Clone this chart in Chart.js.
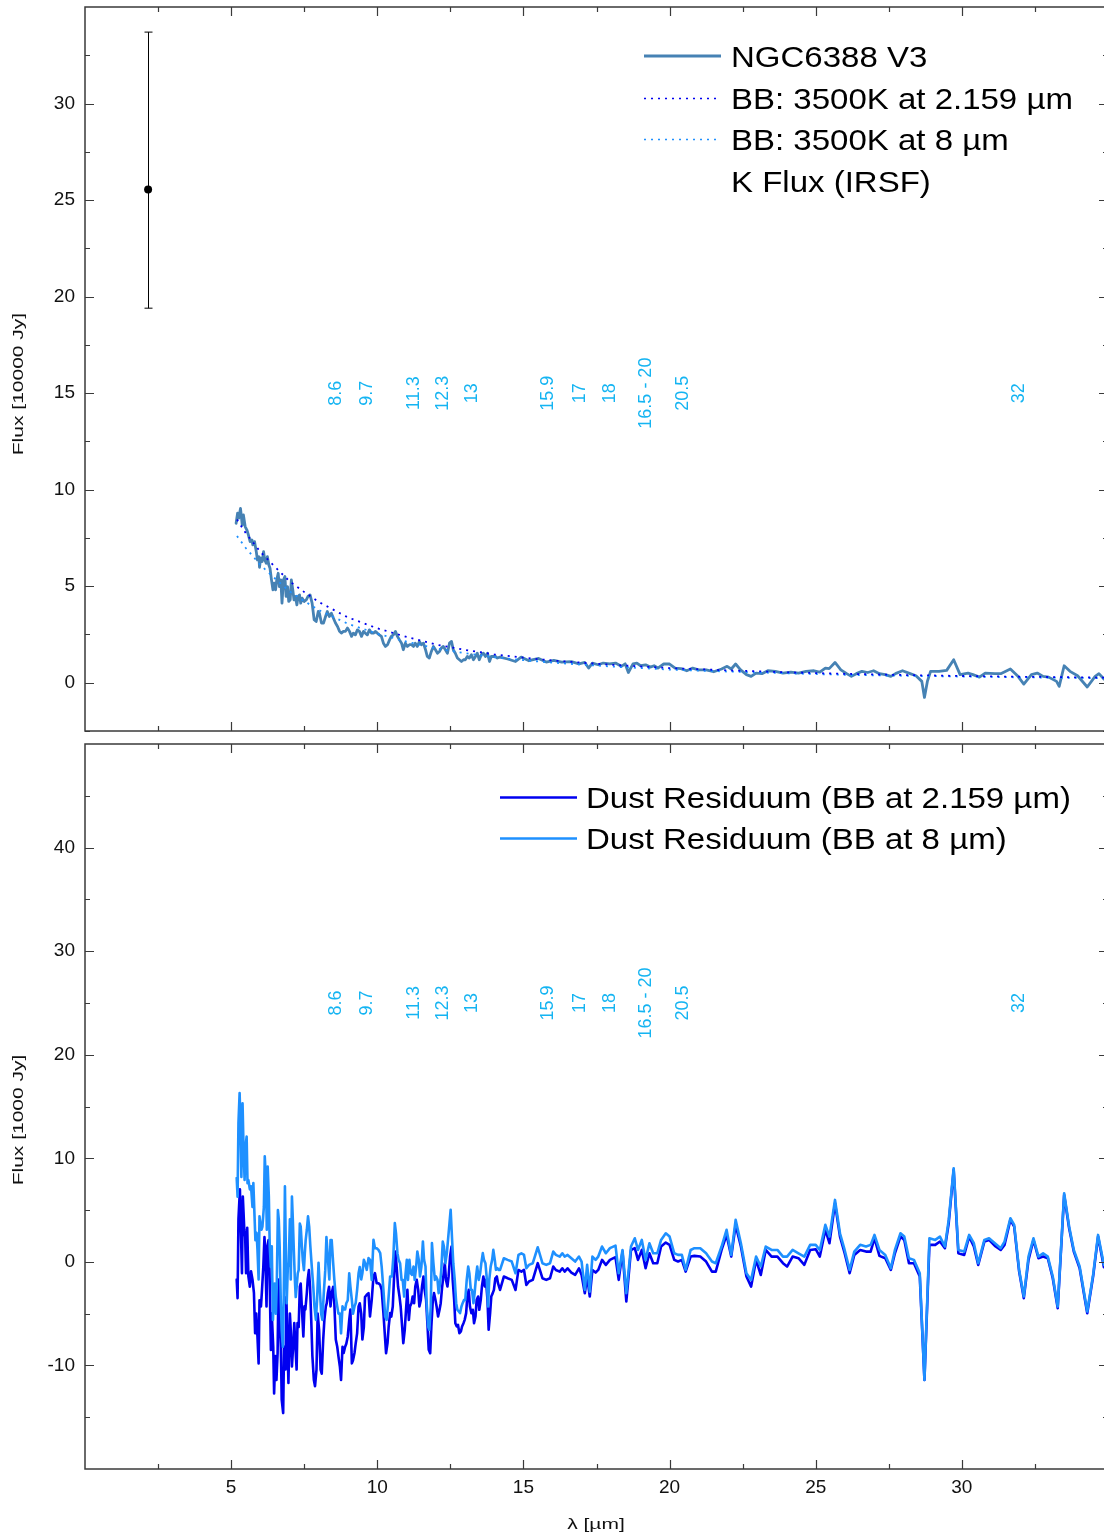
<!DOCTYPE html>
<html><head><meta charset="utf-8">
<script src="https://cdn.jsdelivr.net/npm/chart.js@4.4.1/dist/chart.umd.min.js"></script>
<style>
html,body{margin:0;padding:0;background:#fff;overflow:hidden;width:1104px;height:1537px;}
#top{position:absolute;left:0;top:0;}
#bot{position:absolute;left:0;top:738px;}
</style></head><body>
<canvas id="top" width="1112" height="738"></canvas>
<canvas id="bot" width="1112" height="799"></canvas>
<script>
// ---------------- DATA ----------------
// NGC6388 V3 spectrum, wavelength [µm] and flux [10000 Jy]
const specX = [5.17,5.22,5.26,5.32,5.38,5.42,5.48,5.54,5.59,5.65,5.71,5.74,5.80,5.86,5.90,5.95,5.97,6.01,6.06,6.11,6.15,6.20,6.24,6.29,6.33,6.38,6.43,6.47,6.52,6.56,6.61,6.65,6.70,6.74,6.79,6.84,6.88,6.93,6.97,7.02,7.06,7.11,7.15,7.20,7.25,7.29,7.34,7.38,7.43,7.50,7.57,7.63,7.70,7.77,7.84,7.91,7.98,8.02,8.09,8.16,8.23,8.29,8.36,8.43,8.50,8.57,8.64,8.71,8.77,8.84,8.91,8.98,9.05,9.12,9.18,9.25,9.32,9.39,9.46,9.53,9.59,9.66,9.73,9.80,9.87,9.94,10.00,10.07,10.14,10.21,10.28,10.35,10.42,10.48,10.55,10.62,10.69,10.76,10.83,10.89,10.96,11.03,11.10,11.17,11.24,11.30,11.37,11.44,11.51,11.58,11.65,11.71,11.78,11.85,11.92,11.99,12.06,12.13,12.19,12.26,12.33,12.40,12.47,12.54,12.60,12.67,12.74,12.81,12.88,12.95,13.01,13.08,13.15,13.22,13.29,13.36,13.42,13.49,13.56,13.63,13.70,13.77,13.84,13.90,13.97,14.04,14.11,
14.20,14.46,14.73,14.92,15.19,15.52,15.78,16.04,16.31,16.64,16.90,17.10,17.23,17.36,17.56,17.73,17.95,18.15,18.35,18.48,18.59,18.75,18.88,19.01,19.18,19.34,19.47,19.60,19.80,20.00,20.19,20.39,20.59,20.79,20.99,21.25,21.51,21.78,21.97,22.11,22.26,22.43,22.63,22.79,22.96,23.16,23.36,23.62,23.88,24.15,24.41,24.67,24.94,25.14,25.33,25.46,25.66,25.86,26.06,26.22,26.39,26.58,26.78,26.98,27.18,27.38,27.57,27.77,27.97,28.23,28.43,28.63,28.72,28.82,28.93,29.22,29.48,29.72,29.94,30.21,30.38,30.60,30.80,31.13,31.33,31.66,31.92,32.12,32.38,32.58,32.78,32.97,33.24,33.33,33.50,33.70,33.96,34.29,34.56,34.69,34.86];
const specY = [8.26,8.78,8.52,9.03,8.17,8.69,8.09,7.91,7.66,7.31,7.40,7.14,7.31,6.79,6.36,6.53,5.98,6.45,6.28,6.79,6.36,6.19,6.53,6.10,5.93,5.33,4.81,5.16,4.81,5.33,5.67,4.98,5.33,4.12,5.33,5.50,4.47,4.98,4.21,4.29,5.33,4.81,4.29,4.47,4.03,4.47,4.55,4.12,4.38,4.21,4.29,4.47,4.55,4.12,3.26,3.17,3.69,3.60,3.09,3.09,3.43,3.69,3.43,3.60,3.34,3.09,2.91,2.66,2.57,2.66,2.66,2.83,2.66,2.40,2.57,2.48,2.74,2.66,2.40,2.66,2.57,2.48,2.74,2.57,2.57,2.66,2.57,2.48,2.40,2.05,1.88,1.97,2.22,2.40,2.48,2.66,2.40,2.22,2.05,1.71,2.05,1.88,1.97,1.97,1.88,2.05,1.88,2.14,1.97,2.05,1.71,1.36,1.28,1.62,1.88,1.71,1.53,1.62,1.79,1.88,1.71,1.53,2.05,2.14,1.71,1.53,1.28,1.19,1.10,1.19,1.19,1.36,1.28,1.45,1.19,1.36,1.53,1.19,1.45,1.53,1.36,1.53,1.10,1.36,1.36,1.36,1.28,
1.33,1.23,1.10,1.33,1.14,1.26,1.07,1.16,1.07,1.09,0.98,1.05,0.76,1.02,0.93,1.02,0.98,1.02,0.85,0.98,0.53,0.98,1.02,0.88,0.93,0.81,0.88,0.76,0.97,0.97,0.76,0.73,0.62,0.76,0.67,0.67,0.57,0.71,0.85,0.71,0.97,0.67,0.42,0.33,0.50,0.47,0.62,0.59,0.50,0.55,0.50,0.59,0.62,0.55,0.76,0.73,1.05,0.67,0.47,0.33,0.47,0.59,0.53,0.62,0.47,0.42,0.33,0.50,0.62,0.47,0.36,0.07,-0.76,0.07,0.59,0.59,0.64,1.19,0.42,0.50,0.42,0.29,0.50,0.47,0.47,0.71,0.33,-0.07,0.42,0.50,0.33,0.29,0.07,-0.19,0.88,0.59,0.36,-0.22,0.33,0.47,0.19];

// Black bodies 3500 K [10000 Jy]
const bbX   = [5.2,5.5,6.0,6.5,7.0,7.5,8.0,9,10,11,12,13,14,15,16,18,20,22,24,26,28,30,32,34,35];
const bb2Y  = [8.45,7.75,6.78,6.00,5.25,4.70,4.18,3.38,2.82,2.37,1.98,1.70,1.47,1.30,1.15,0.93,0.76,0.64,0.54,0.46,0.40,0.35,0.31,0.28,0.26];
const bb8Y  = [7.60,6.98,6.10,5.40,4.73,4.23,3.76,3.05,2.54,2.13,1.78,1.53,1.32,1.17,1.04,0.84,0.68,0.58,0.49,0.41,0.36,0.32,0.28,0.25,0.23];

// K flux (IRSF) with asymmetric error [10000 Jy]
const kFluxX = [2.159];
const kFluxY = [25.55];
const kFluxLow = [19.4];
const kFluxHigh = [33.7];

// Dust residuum, BB at 2.159 µm [1000 Jy]
const res2X = [5.19,5.22,5.25,5.30,5.33,5.37,5.40,5.45,5.48,5.51,5.55,5.59,5.64,5.68,5.73,5.78,5.82,5.86,5.90,5.94,5.97,6.02,6.05,6.10,6.14,6.17,6.21,6.24,6.28,6.31,6.36,6.39,6.44,6.47,6.51,6.55,6.59,6.62,6.65,6.70,6.73,6.78,6.81,6.86,6.89,6.93,6.96,7.01,7.04,7.08,7.12,7.16,7.20,7.24,7.27,7.31,7.35,7.38,7.43,7.47,7.51,7.54,7.59,7.62,7.66,7.70,7.74,7.78,7.83,7.87,7.92,7.96,8.01,8.06,8.10,8.15,8.19,8.24,8.27,8.31,8.35,8.40,8.44,8.49,8.53,8.58,8.63,8.67,8.72,8.76,8.81,8.85,8.90,8.94,8.99,9.04,9.08,9.13,9.17,9.22,9.26,9.31,9.36,9.40,9.45,9.49,9.54,9.58,
9.64,9.70,9.75,9.81,9.87,9.92,9.98,10.04,10.10,10.15,10.21,10.27,10.30,10.35,10.39,10.44,10.48,10.53,10.57,10.62,10.67,10.71,10.76,10.80,10.85,10.89,10.94,10.99,11.03,11.08,11.12,11.17,11.21,11.26,11.30,11.35,11.40,11.44,11.49,11.53,11.58,11.62,11.67,11.72,11.76,11.81,11.85,11.90,11.94,11.99,12.03,12.08,12.13,12.17,12.22,12.26,12.31,12.35,12.40,12.44,12.49,12.54,12.58,12.63,12.67,12.72,12.76,12.81,12.86,12.90,12.95,12.99,13.04,13.08,13.13,13.17,13.22,13.27,13.31,13.36,13.40,13.45,13.49,13.54,13.58,13.63,13.68,13.72,13.77,13.81,13.86,13.90,13.95,13.99,14.04,14.09,14.13,
14.20,14.33,14.46,14.60,14.73,14.83,14.93,15.02,15.10,15.19,15.32,15.49,15.65,15.78,15.91,16.02,16.11,16.24,16.33,16.41,16.51,16.64,16.77,16.90,16.99,17.10,17.18,17.27,17.36,17.47,17.56,17.69,17.82,17.96,18.15,18.26,18.39,18.52,18.68,18.81,18.92,19.05,19.18,19.31,19.44,19.58,19.71,19.87,20.00,20.16,20.29,20.42,20.55,20.72,20.85,21.05,21.25,21.45,21.58,21.78,21.95,22.11,22.26,22.44,22.63,22.79,22.96,23.12,23.29,23.49,23.69,23.88,24.02,24.21,24.41,24.61,24.81,25.00,25.14,25.33,25.47,25.66,25.83,25.99,26.16,26.32,26.52,26.72,26.88,27.01,27.18,27.38,27.57,27.71,27.90,28.03,28.19,28.36,28.56,28.72,28.89,29.09,29.25,29.42,29.55,29.72,29.88,30.08,30.25,30.41,30.56,30.77,30.93,31.13,31.33,31.46,31.66,31.79,31.96,32.12,32.28,32.45,32.62,32.78,32.94,33.11,33.28,33.50,33.67,33.83,34.03,34.29,34.49,34.66,34.86];
const res2Y = [-1.7,-3.5,4.1,7.0,3.4,-1.1,6.3,3.1,2.4,-1.1,3.3,-1.4,-2.4,-0.9,-1.7,-3.0,-6.9,-5.0,-7.2,-9.8,-3.7,-4.3,-3.0,-0.5,2.4,0.8,-4.3,1.5,2.1,-0.5,-8.5,-5.0,-8.2,-12.7,-9.1,-11.4,-8.8,-1.7,-5.0,-8.2,-13.3,-14.6,-8.2,-10.4,-3.4,-8.2,-11.7,-5.0,-6.6,-10.1,-8.2,-5.9,-8.2,-10.4,-5.9,-6.3,-2.4,-2.1,-5.0,-7.2,-4.3,-4.6,-3.0,-1.7,-0.8,-2.4,-5.6,-9.1,-11.4,-12.0,-10.4,-5.0,-6.6,-10.4,-10.8,-7.5,-5.6,-4.3,-4.0,-3.0,-2.4,-4.3,-3.0,-2.4,-4.0,-7.5,-8.2,-9.1,-10.1,-11.4,-8.2,-8.8,-8.2,-7.9,-7.2,-5.6,-4.6,-9.8,-9.5,-8.8,-7.9,-6.9,-4.3,-4.0,-5.0,-7.5,-6.3,-3.4,
-3.18,-3.02,-5.28,-3.67,-1.41,-1.09,-2.06,-2.06,-2.22,-2.70,-4.95,-7.53,-8.82,-7.85,-6.24,-4.95,-5.28,-4.31,-1.74,1.00,-0.77,-2.38,-3.35,-4.31,-6.24,-7.85,-6.56,-4.31,-2.70,-5.60,-4.31,-3.99,-3.35,-3.99,-2.38,-1.74,-2.70,-4.31,-3.67,-2.38,-1.41,-2.70,-3.67,-6.24,-8.49,-8.82,-6.24,-3.67,-3.02,-3.67,-4.31,-5.28,-4.63,-3.99,-2.38,-1.41,-0.13,-1.74,-2.38,-1.41,0.52,1.48,-1.74,-3.67,-5.92,-6.24,-6.08,-6.89,-6.72,-6.24,-5.92,-5.60,-4.95,-3.35,-2.70,-4.31,-4.95,-4.63,-5.92,-5.28,-3.67,-3.35,-4.63,-3.67,-2.38,-1.41,-2.38,-1.74,-3.67,-6.56,-4.95,-3.35,-3.02,-2.70,-1.58,-1.41,-2.06,
-2.71,-1.42,-1.58,-1.74,-2.71,-0.78,-0.94,-0.78,-2.23,-1.90,-1.74,-0.13,-1.58,-1.74,-1.58,-0.45,-0.78,-0.94,-0.62,-0.94,-0.62,-1.03,-1.26,-0.62,-1.26,-3.03,-1.42,-3.35,-0.78,-1.03,-0.78,0.19,-0.29,0.19,0.45,-1.74,0.99,-3.83,1.15,1.32,0.19,1.15,-0.62,0.83,-0.13,-0.13,1.48,1.86,1.64,0.19,0.03,0.19,-0.94,0.51,0.58,0.51,0.03,-0.94,-0.94,1.15,2.60,0.51,3.57,1.48,-1.42,-2.39,0.19,-1.26,1.15,0.51,0.51,-0.13,-0.45,0.51,0.35,-0.29,1.15,1.22,0.51,3.09,1.80,5.66,2.44,0.83,-1.10,0.67,1.15,0.99,0.99,2.28,0.58,0.35,-0.78,0.83,2.44,2.12,-0.13,-0.13,-1.42,-11.40,1.64,1.64,1.96,1.32,3.73,8.88,0.83,0.67,2.44,1.48,-0.29,1.96,2.12,1.54,1.15,1.64,4.05,3.41,-0.94,-3.51,0.19,2.12,0.35,0.51,0.35,-1.58,-4.48,6.46,3.25,0.99,-0.62,-4.96,-1.42,2.44,-0.52];

// Dust residuum, BB at 8 µm [1000 Jy]
const res8X = [5.19,5.22,5.25,5.29,5.32,5.35,5.39,5.42,5.46,5.49,5.53,5.56,5.59,5.64,5.68,5.73,5.76,5.80,5.83,5.87,5.90,5.94,5.97,6.00,6.04,6.07,6.12,6.15,6.19,6.22,6.25,6.29,6.32,6.36,6.39,6.43,6.46,6.49,6.53,6.56,6.60,6.63,6.66,6.70,6.73,6.77,6.80,6.84,6.87,6.90,6.94,6.97,7.01,7.04,7.08,7.11,7.14,7.18,7.21,7.25,7.28,7.31,7.35,7.38,7.42,7.45,7.49,7.52,7.55,7.59,7.63,7.67,7.71,7.76,7.81,7.85,7.90,7.94,7.99,8.03,8.08,8.12,8.17,8.22,8.26,8.30,8.33,8.36,8.40,8.44,8.49,8.53,8.58,8.63,8.67,8.72,8.76,8.81,8.85,8.90,8.94,8.99,9.04,9.08,9.13,9.17,9.22,9.26,9.31,9.36,9.40,9.45,9.49,9.54,9.58,
9.64,9.70,9.75,9.81,9.87,9.92,9.98,10.04,10.10,10.15,10.21,10.27,10.32,10.38,10.44,10.50,10.55,10.60,10.64,10.69,10.73,10.78,10.83,10.87,10.92,10.96,11.01,11.05,11.10,11.14,11.19,11.24,11.28,11.33,11.37,11.42,11.46,11.51,11.56,11.60,11.65,11.69,11.74,11.78,11.83,11.87,11.92,11.97,12.01,12.06,12.10,12.15,12.19,12.24,12.28,12.33,12.38,12.42,12.47,12.51,12.56,12.60,12.65,12.70,12.74,12.79,12.83,12.88,12.92,12.97,13.01,13.06,13.11,13.15,13.20,13.24,13.29,13.33,13.38,13.42,13.47,13.52,13.56,13.61,13.65,13.70,13.74,13.79,13.83,13.88,13.93,13.97,14.02,14.06,14.11,14.15,
14.20,14.33,14.46,14.60,14.73,14.83,14.93,15.02,15.10,15.19,15.32,15.49,15.65,15.78,15.91,16.02,16.11,16.24,16.33,16.41,16.51,16.64,16.77,16.90,16.99,17.10,17.18,17.27,17.36,17.47,17.56,17.69,17.82,17.96,18.15,18.26,18.39,18.52,18.68,18.81,18.92,19.05,19.18,19.31,19.44,19.58,19.71,19.87,20.00,20.16,20.29,20.42,20.55,20.72,20.85,21.05,21.25,21.45,21.58,21.78,21.95,22.11,22.26,22.44,22.63,22.79,22.96,23.12,23.29,23.49,23.69,23.88,24.02,24.21,24.41,24.61,24.81,25.00,25.14,25.33,25.47,25.66,25.83,25.99,26.16,26.32,26.52,26.72,26.88,27.01,27.18,27.38,27.57,27.71,27.90,28.03,28.19,28.36,28.56,28.72,28.89,29.09,29.25,29.42,29.55,29.72,29.88,30.08,30.25,30.41,30.56,30.77,30.93,31.13,31.33,31.46,31.66,31.79,31.96,32.12,32.28,32.45,32.62,32.78,32.94,33.11,33.28,33.50,33.67,33.83,34.03,34.29,34.49,34.66,34.86];
const res8Y = [8.1,6.3,13.4,16.3,13.1,8.2,15.3,11.5,7.9,11.1,12.1,7.6,7.9,7.0,7.3,5.3,7.6,4.4,2.1,2.8,1.2,-1.7,4.4,3.7,3.1,3.4,5.3,10.2,7.9,3.1,9.2,6.3,1.5,-0.5,1.5,-5.6,-3.0,-2.1,-5.0,-2.4,5.0,4.1,1.5,-4.0,-6.6,-8.2,-3.4,7.3,1.5,-4.0,-0.5,-0.1,4.1,-1.7,6.3,4.1,1.5,-1.7,-3.4,-2.1,-1.1,-0.8,3.7,3.4,1.5,0.2,-0.8,0.8,2.1,3.1,4.4,3.4,1.5,-0.5,-2.4,-4.3,-5.6,-3.7,-0.1,-2.4,-5.0,-5.6,-3.0,-0.8,2.4,0.8,-0.5,-1.7,2.1,2.1,-0.1,-1.7,-3.4,-4.3,-5.0,-5.0,-6.9,-4.3,-4.6,-4.6,-4.0,-3.7,-1.1,-2.4,-3.7,-5.0,-4.3,-4.0,-2.7,-1.1,-0.5,-1.7,-1.1,0.2,-0.1,
-0.77,0.36,0.19,-1.74,2.13,1.32,1.32,1.16,0.84,-0.45,-2.70,-5.28,-5.60,-3.67,-1.41,-1.41,0.52,3.74,2.77,0.84,0.19,-0.13,-1.74,-1.74,-3.35,-1.41,0.19,-1.74,0.19,-1.09,-1.25,-0.45,-1.74,-0.45,1.00,0.19,-1.41,-0.45,1.97,0.19,-0.45,-3.99,-6.24,-6.56,-4.31,1.81,-0.13,-1.74,-1.41,-1.74,-3.02,-2.06,-0.77,1.97,1.48,-0.13,0.84,2.13,3.74,5.02,2.13,-0.13,-1.74,-3.99,-4.63,-4.79,-4.95,-4.31,-3.99,-3.67,-3.67,-1.74,-0.45,-1.09,-2.70,-2.70,-3.99,-3.02,-1.41,-0.45,-1.74,-1.09,-0.13,0.84,0.19,-0.13,-1.41,-4.31,-1.74,-0.45,0.19,1.16,0.19,-0.77,-0.61,-0.77,
-0.78,0.35,0.19,0.03,-1.10,0.67,0.83,0.67,-0.62,-0.29,-0.13,1.41,-0.13,-0.29,-0.13,0.99,0.67,0.51,0.83,0.51,0.67,0.35,0.03,0.51,0.03,-2.71,-0.29,-2.87,0.51,0.19,0.51,1.48,0.83,1.32,1.57,-1.10,1.15,-3.03,1.48,2.28,1.15,2.12,0.19,1.80,0.83,0.83,2.12,2.76,2.44,0.83,0.67,0.67,-0.78,1.15,1.32,1.32,0.83,0.03,-0.13,1.48,3.09,0.67,4.05,1.80,-1.10,-1.74,0.51,-0.45,1.48,1.15,1.15,0.51,0.51,1.15,0.83,0.51,1.64,1.64,1.15,3.57,2.44,5.98,2.76,1.15,-0.78,0.99,1.64,1.48,1.64,2.60,1.15,0.67,-0.62,1.15,2.76,2.44,0.35,0.19,-1.10,-11.40,2.28,2.12,2.44,1.48,4.05,9.04,1.15,0.99,2.60,1.80,-0.13,2.12,2.28,1.80,1.32,1.96,4.21,3.57,-0.78,-3.35,0.51,2.28,0.51,0.83,0.51,-1.42,-4.32,6.63,3.41,1.15,-0.45,-4.80,-1.26,2.60,-0.29];

// Feature labels (µm)
const featurePos = [8.6,9.65,11.25,12.25,13.25,15.85,16.95,17.95,19.2,20.45,31.95];
const featureLabels = ['8.6','9.7','11.3','12.3','13','15.9','17','18','16.5 - 20','20.5','32'];

// Axis ticks
const xMajorTicks = [5,10,15,20,25,30];
const xMinorTicks = [2.5,7.5,12.5,17.5,22.5,27.5,32.5];
const topYTicks = [0,5,10,15,20,25,30];
const topYMinor = [-2.5,2.5,7.5,12.5,17.5,22.5,27.5,32.5];
const botYTicks = [-10,0,10,20,30,40];
const botYMinor = [-15,-5,5,15,25,35,45];

// ---------------- RENDERING ----------------
const FONT = "'Liberation Sans', Arial, Helvetica, sans-serif";
const FEATURE_COLOR = '#14B4F2';
const C_SPEC = '#4682B4', C_DARK = '#0000F0', C_LIGHT = '#1E90FF';
const zip = (xs, ys) => xs.map((x, i) => ({x, y: ys[i]}));

function frameTicks(chart, yMaj, yMin) {
  const {ctx, chartArea: a, scales: {x, y}} = chart;
  ctx.save();
  ctx.strokeStyle = '#3a3a3a';
  ctx.lineWidth = 1.5;
  ctx.strokeRect(a.left, a.top, a.right - a.left, a.bottom - a.top);
  ctx.lineWidth = 1.2;
  ctx.beginPath();
  const tx = (vals, len) => vals.forEach(v => {
    const p = Math.round(x.getPixelForValue(v)) + 0.5;
    ctx.moveTo(p, a.bottom); ctx.lineTo(p, a.bottom - len);
    ctx.moveTo(p, a.top); ctx.lineTo(p, a.top + len);
  });
  const ty = (vals, len) => vals.forEach(v => {
    const p = Math.round(y.getPixelForValue(v)) + 0.5;
    ctx.moveTo(a.left, p); ctx.lineTo(a.left + len, p);
    ctx.moveTo(a.right, p); ctx.lineTo(a.right - len, p);
  });
  tx(xMajorTicks, 9); tx(xMinorTicks, 5); ty(yMaj, 9); ty(yMin, 5);
  ctx.stroke();
  ctx.restore();
}

function features(chart, yVal) {
  const {ctx, scales: {x, y}} = chart;
  ctx.save();
  ctx.fillStyle = FEATURE_COLOR;
  ctx.font = '18px ' + FONT;
  ctx.textAlign = 'center';
  ctx.textBaseline = 'middle';
  featurePos.forEach((p, i) => {
    ctx.save();
    ctx.translate(x.getPixelForValue(p), y.getPixelForValue(yVal));
    ctx.rotate(-Math.PI / 2);
    ctx.fillText(featureLabels[i], 0, 0);
    ctx.restore();
  });
  ctx.restore();
}

function stretchedText(ctx, text, cx, cy, size, sx, rotate) {
  ctx.save();
  ctx.fillStyle = '#111';
  ctx.font = size + 'px ' + FONT;
  ctx.textAlign = 'center';
  ctx.textBaseline = 'middle';
  ctx.translate(cx, cy);
  if (rotate) ctx.rotate(-Math.PI / 2);
  ctx.scale(sx, 1);
  ctx.fillText(text, 0, 0);
  ctx.restore();
}

function legend(chart, items, x0, x1, xt, offY) {
  const ctx = chart.ctx;
  items.forEach(it => {
    const yy = it.y - offY;
    if (it.color) {
      ctx.save();
      ctx.strokeStyle = it.color;
      ctx.lineWidth = it.width;
      ctx.setLineDash(it.dash || []);
      ctx.beginPath(); ctx.moveTo(x0, yy); ctx.lineTo(x1, yy); ctx.stroke();
      ctx.restore();
    }
    ctx.save();
    ctx.fillStyle = '#000';
    ctx.font = '30px ' + FONT;
    ctx.textAlign = 'left';
    ctx.textBaseline = 'alphabetic';
    ctx.translate(xt, yy + 10.8);
    ctx.scale(1.1, 1);
    ctx.fillText(it.label, 0, 0);
    ctx.restore();
  });
}

const topPlugin = {
  id: 'topDeco',
  beforeDatasetsDraw(chart) {
    const {ctx, scales: {x, y}} = chart;
    ctx.save();
    ctx.strokeStyle = '#000'; ctx.lineWidth = 1;
    kFluxX.forEach((kx, i) => {
      const px = Math.round(x.getPixelForValue(kx)) + 0.5;
      const lo = y.getPixelForValue(kFluxLow[i]), hi = y.getPixelForValue(kFluxHigh[i]);
      ctx.beginPath();
      ctx.moveTo(px, lo); ctx.lineTo(px, hi);
      ctx.moveTo(px - 4, lo); ctx.lineTo(px + 4, lo);
      ctx.moveTo(px - 4, hi); ctx.lineTo(px + 4, hi);
      ctx.stroke();
    });
    ctx.restore();
  },
  afterDraw(chart) {
    frameTicks(chart, topYTicks, topYMinor);
    features(chart, 15);
    stretchedText(chart.ctx, 'Flux [10000 Jy]', 19, 384, 15, 1.4, true);
    legend(chart, [
      {label: 'NGC6388 V3', color: C_SPEC, width: 3, y: 56},
      {label: 'BB: 3500K at 2.159 µm', color: C_DARK, width: 1.5, dash: [2, 5], y: 98.5},
      {label: 'BB: 3500K at 8 µm', color: C_LIGHT, width: 1.5, dash: [2, 5], y: 139.5},
      {label: 'K Flux (IRSF)', color: null, y: 181}
    ], 644, 721, 731, 0);
  }
};

const botPlugin = {
  id: 'botDeco',
  afterDraw(chart) {
    frameTicks(chart, botYTicks, botYMinor);
    features(chart, 25);
    stretchedText(chart.ctx, 'Flux [1000 Jy]', 19, 1120 - 738, 15, 1.4, true);
    stretchedText(chart.ctx, 'λ [µm]', 596, 1525 - 738, 15, 1.4, false);
    legend(chart, [
      {label: 'Dust Residuum (BB at 2.159 µm)', color: C_DARK, width: 2.5, y: 797.5},
      {label: 'Dust Residuum (BB at 8 µm)', color: C_LIGHT, width: 2.5, y: 838.5}
    ], 500, 577, 586, 738);
  }
};

function yAxis(min, max, ticks) {
  return {
    type: 'linear', min, max,
    grid: {display: false, drawTicks: false},
    border: {display: false},
    ticks: {font: {family: FONT, size: 19}, color: '#111', padding: 10},
    afterBuildTicks: s => { s.ticks = ticks.map(v => ({value: v})); },
    afterFit: s => { s.width = 85; s.paddingTop = 0; s.paddingBottom = 0; s.paddingLeft = 0; s.paddingRight = 0; }
  };
}

const common = {
  responsive: false,
  animation: false,
  events: [],
  plugins: {legend: {display: false}, tooltip: {enabled: false}},
  elements: {point: {radius: 0}, line: {tension: 0, borderJoinStyle: 'round', borderCapStyle: 'round'}}
};

new Chart(document.getElementById('top'), {
  type: 'line',
  data: {datasets: [
    {label: 'K Flux (IRSF)', data: zip(kFluxX, kFluxY), showLine: false, pointRadius: 4, pointBackgroundColor: '#000', pointBorderColor: '#000', pointBorderWidth: 0, order: 0},
    {label: 'BB: 3500K at 2.159 µm', data: zip(bbX, bb2Y), borderColor: C_DARK, borderWidth: 1.8, borderDash: [2, 5], borderCapStyle: 'butt', fill: false, order: 1},
    {label: 'BB: 3500K at 8 µm', data: zip(bbX, bb8Y), borderColor: C_LIGHT, borderWidth: 1.8, borderDash: [2, 5], borderCapStyle: 'butt', fill: false, order: 2},
    {label: 'NGC6388 V3', data: zip(specX, specY), borderColor: C_SPEC, borderWidth: 2.8, fill: false, order: 3}
  ]},
  options: Object.assign({}, common, {
    layout: {padding: {left: 0, right: 4, top: 7, bottom: 7}},
    scales: {
      x: {type: 'linear', min: 0, max: 35, display: false,
          afterFit: s => { s.height = 0; s.paddingLeft = 0; s.paddingRight = 0; }},
      y: yAxis(-2.5, 35, topYTicks)
    }
  }),
  plugins: [topPlugin]
});

new Chart(document.getElementById('bot'), {
  type: 'line',
  data: {datasets: [
    {label: 'Dust Residuum (BB at 8 µm)', data: zip(res8X, res8Y), borderColor: C_LIGHT, borderWidth: 2.6, fill: false, order: 0},
    {label: 'Dust Residuum (BB at 2.159 µm)', data: zip(res2X, res2Y), borderColor: C_DARK, borderWidth: 2.6, fill: false, order: 1}
  ]},
  options: Object.assign({}, common, {
    layout: {padding: {left: 0, right: 4, top: 6, bottom: 38}},
    scales: {
      x: {type: 'linear', min: 0, max: 35,
          grid: {display: false, drawTicks: false},
          border: {display: false},
          ticks: {font: {family: FONT, size: 19}, color: '#111', padding: 7, maxRotation: 0},
          afterBuildTicks: s => { s.ticks = xMajorTicks.map(v => ({value: v})); },
          afterFit: s => { s.height = 30; s.paddingLeft = 0; s.paddingRight = 0; }},
      y: yAxis(-20, 50, botYTicks)
    }
  }),
  plugins: [botPlugin]
});
</script>
</body></html>
